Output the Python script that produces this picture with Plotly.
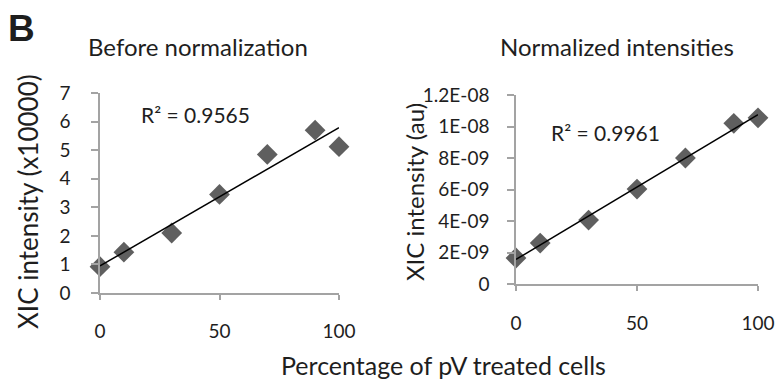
import numpy as np
import plotly.graph_objects as go

# ---- data ----
pct = [0, 10, 30, 50, 70, 90, 100]
raw_intensity = [0.92, 1.43, 2.10, 3.45, 4.85, 5.70, 5.12]          # x10000
norm_intensity = [1.65e-9, 2.60e-9, 4.06e-9, 6.03e-9, 8.00e-9, 10.2e-9, 10.55e-9]

left_yticks = [0, 1, 2, 3, 4, 5, 6, 7]
right_yticks = [0, 2e-9, 4e-9, 6e-9, 8e-9, 1e-8, 1.2e-8]
right_yticklabels = ["0", "2E-09", "4E-09", "6E-09", "8E-09", "1E-08", "1.2E-08"]
xticks = [0, 50, 100]

r2_left = "R² = 0.9565"
r2_right = "R² = 0.9961"

# ---- trend lines (least squares) ----
def trend(x, y):
    m, b = np.polyfit(x, y, 1)
    xs = [min(x), max(x)]
    return xs, [m * v + b for v in xs]

W, H = 777, 379
FONT = "Lato"
TXT = "#1e1e1e"
AX = "#a3a3a3"
MK = "#5f5f5f"

def px_x(a, b):
    return [a / W, b / W]

def px_y(top, bottom):
    return [(H - bottom) / H, (H - top) / H]

fig = go.Figure()
lx, ly = trend(pct, raw_intensity)
rx, ry = trend(pct, norm_intensity)

fig.add_trace(go.Scatter(x=pct, y=raw_intensity, mode="markers",
                         marker=dict(symbol="diamond", size=16, color=MK),
                         xaxis="x", yaxis="y", cliponaxis=False, hoverinfo="skip"))
fig.add_trace(go.Scatter(x=lx, y=ly, mode="lines", line=dict(color="black", width=1.5),
                         xaxis="x", yaxis="y", cliponaxis=False, hoverinfo="skip"))
fig.add_trace(go.Scatter(x=pct, y=norm_intensity, mode="markers",
                         marker=dict(symbol="diamond", size=16, color=MK),
                         xaxis="x2", yaxis="y2", cliponaxis=False, hoverinfo="skip"))
fig.add_trace(go.Scatter(x=rx, y=ry, mode="lines", line=dict(color="black", width=1.5),
                         xaxis="x2", yaxis="y2", cliponaxis=False, hoverinfo="skip"))

common = dict(showgrid=False, zeroline=False, showline=True, linecolor=AX, linewidth=1.5,
              ticks="outside", tickcolor=AX, tickwidth=1.5, automargin=False,
              tickfont=dict(family=FONT, size=19, color=TXT))

fig.update_layout(
    width=W, height=H, margin=dict(l=0, r=0, t=0, b=0, autoexpand=False),
    paper_bgcolor="white", plot_bgcolor="white", showlegend=False,
    xaxis=dict(domain=px_x(100, 339), range=[0, 100], tickvals=xticks,
               anchor="y", ticklen=5, ticklabelstandoff=15, **common),
    yaxis=dict(domain=px_y(93, 293), range=[0, 7], tickvals=left_yticks,
               anchor="x", ticklen=7, ticklabelstandoff=17, **common),
    xaxis2=dict(domain=px_x(516, 758), range=[0, 100], tickvals=xticks,
                anchor="y2", ticklen=5, ticklabelstandoff=16, **common),
    yaxis2=dict(domain=px_y(95, 284), range=[0, 1.2e-8], tickvals=right_yticks,
                ticktext=right_yticklabels, anchor="x2", ticklen=7,
                ticklabelstandoff=14, **common),
)

def ann(text, x, y, size=18, angle=0, bold=False, family=FONT):
    fig.add_annotation(text=f"<b>{text}</b>" if bold else text,
                       x=x / W, y=(H - y) / H, xref="paper", yref="paper",
                       showarrow=False, textangle=angle,
                       font=dict(family=family, size=size, color=TXT),
                       xanchor="center", yanchor="middle")

ann("B", 21, 29, size=37, bold=True, family="Liberation Sans")
ann("Before normalization", 198, 47, size=24)
ann("Normalized intensities", 617, 47, size=24)
ann("Percentage of pV treated cells", 443, 365, size=25)
ann("XIC intensity (x10000)", 28, 202, size=26, angle=-90)
ann("XIC intensity (au)", 414, 192, size=24, angle=-90)
ann(r2_left, 196, 114, size=21)
ann(r2_right, 605, 133, size=21)

fig.write_html("out.html", config={"displayModeBar": False},
               post_script="document.body.style.margin='0';document.body.style.overflow='hidden';")
